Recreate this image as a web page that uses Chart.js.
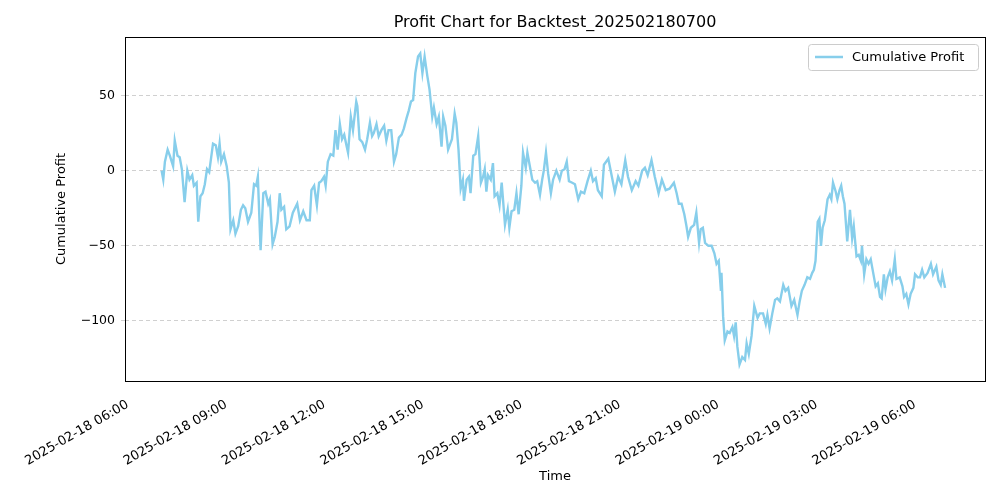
<!DOCTYPE html>
<html>
<head>
<meta charset="utf-8">
<script src="https://cdn.jsdelivr.net/npm/chart.js@4.4.1/dist/chart.umd.min.js"></script>
<style>
  html, body { margin: 0; padding: 0; background: #fff; }
  #wrap { width: 1000px; height: 500px; }
</style>
</head>
<body>
<div id="wrap"><canvas id="profitChart" width="1000" height="500"></canvas></div>
<script>
// minutes since 2025-02-18 06:00
const minutes = [62,65,68,73,77,83,86,91,95,99,104,109,113,118,121,126,129,133,137,141,145,149,156,161,165,168,171,176,181,185,188,193,197,202,207,211,215,220,226,231,235,238,243,248,252,257,260,265,269,274,278,281,286,290,296,302,310,315,321,327,333,336,341,346,350,354,359,362,366,371,376,380,384,388,392,396,400,403,408,412,418,
  420,424,429,434,438,443,447,450,455,459,464,469,473,477,482,487,491,496,501,505,510,514,518,522,526,531,535,539,543,548,552,557,560,565,569,574,577,581,586,590,593,598,601,605,609,613,615,620,624,627,632,636,641,646,650,653,656,659,664,668,671,676,680,684,690,695,698,702,707,711,715,720,723,728,731,735,740,745,749,754,758,761,765,769,774,778,
  784,790,794,799,803,807,813,818,824,829,835,841,847,851,856,860,867,871,879,885,891,897,903,910,915,922,929,934,941,946,951,958,964,971,977,984,991,999,1004,1008,1013,1018,1022,1025,1030,1036,1040,1045,1048,1052,1056,1062,1068,1073,1077,1081,1085,1086,1089,1092,1097,1101,1106,1109,1112,1115,1119,1124,1129,1132,1136,1141,1146,
  1152,1156,1162,1167,1170,1174,1179,1184,1188,1193,1199,1203,1208,1214,1219,1225,1229,1233,1238,1243,1248,1252,1255,1258,1262,1265,1268,1271,1275,1280,1284,1287,1290,1295,1298,1302,1305,1308,1311,1316,1321,1325,1328,1333,1337,1341,1343,1347,1351,1355,1359,1363,1368,1372,1376,1379,1383,1386,1390,1394,1398,1403,1406,1412,1417,1420,1424,1428,1432,1437,1440,1445,1449,1453,1457,1463,1469,1473,1479,1483,1487,1490,1495];
const profit = [0,-6,6,14,10,3,20,10,9,1,-21,0,-6,-3,-10,-8,-34,-17,-15,-9,1,-1,18,17,9,18,6,11,3,-8,-39,-33,-42,-37,-26,-23,-25,-34,-28,-9,-10,-4,-53,-15,-14,-22,-19,-49,-44,-34,-15,-26,-24,-39,-37,-28,-22,-33,-27,-33,-33,-13,-10,-23,-8,-7,-4,-10,6,11,10,27,14,31,21,24,17,12,36,27,46,
  43,21,19,14,21,32,23,25,31,23,27,30,20,27,27,6,11,22,24,28,35,40,46,47,65,76,78,65,76,63,54,36,42,31,36,16,36,30,14,18,21,38,32,14,-12,-6,-20,-6,-4,-15,10,11,23,-8,-4,1,-14,-3,-6,5,-17,-15,-23,-8,-36,-26,-38,-27,-26,-15,-29,-10,12,2,12,4,-6,-8,-7,-16,-6,0,12,-2,-15,-6,
  0,-6,0,1,6,-7,-8,-9,-19,-14,-15,-7,0,-7,-5,-13,-17,4,8,-3,-14,-4,-9,7,-4,-13,-7,-10,0,2,-3,7,-4,-15,-6,-13,-12,-8,-15,-22,-22,-29,-37,-44,-38,-36,-28,-48,-39,-38,-48,-50,-50,-55,-62,-60,-80,-68,-97,-113,-107,-108,-104,-110,-101,-117,-129,-124,-126,-115,-122,-110,-90,
  -98,-95,-95,-102,-96,-105,-95,-86,-85,-87,-76,-80,-78,-90,-86,-96,-87,-80,-76,-71,-72,-68,-66,-60,-34,-32,-50,-38,-33,-19,-16,-19,-8,-14,-19,-13,-10,-17,-22,-47,-26,-45,-37,-57,-56,-60,-50,-69,-59,-62,-59,-67,-77,-75,-84,-85,-69,-79,-71,-67,-73,-59,-72,-71,-77,-84,-82,-89,-82,-78,-69,-71,-71,-66,-71,-68,-62,-69,-64,-73,-76,-69,-78];
const xTicks = [0,180,360,540,720,900,1080,1260,1440];
const xTickLabels = ['2025-02-18 06:00','2025-02-18 09:00','2025-02-18 12:00','2025-02-18 15:00','2025-02-18 18:00','2025-02-18 21:00','2025-02-19 00:00','2025-02-19 03:00','2025-02-19 06:00'];
const yTicks = [-100,-50,0,50];

const FONT = 'DejaVu Sans';
const LINE_COLOR = '#87ceeb';

// frame, title, axis titles and legend drawn matplotlib-style
const decor = {
    id: 'decor',
    afterDraw(chart) {
        const { ctx, chartArea: a } = chart;
        ctx.save();
        ctx.strokeStyle = '#000';
        ctx.lineWidth = 1;
        ctx.strokeRect(a.left + 0.5, a.top + 0.5, a.right - a.left, a.bottom - a.top);

        ctx.fillStyle = '#000';
        ctx.textAlign = 'center';
        ctx.textBaseline = 'middle';
        ctx.font = '16px ' + FONT;
        ctx.fillText('Profit Chart for Backtest_202502180700', (a.left + a.right) / 2, 23);
        ctx.font = '13px ' + FONT;
        ctx.fillText('Time', (a.left + a.right) / 2, 477);
        ctx.translate(62, (a.top + a.bottom) / 2);
        ctx.rotate(-Math.PI / 2);
        ctx.fillText('Cumulative Profit', 0, 0);
        ctx.restore();

        // legend box
        ctx.save();
        const bx = 808, by = 44, bw = 170, bh = 26;
        ctx.fillStyle = 'rgba(255,255,255,0.8)';
        ctx.strokeStyle = '#ccc';
        ctx.lineWidth = 1;
        ctx.beginPath();
        ctx.roundRect(bx + 0.5, by + 0.5, bw, bh, 3);
        ctx.fill();
        ctx.stroke();
        ctx.strokeStyle = LINE_COLOR;
        ctx.lineWidth = 2.5;
        ctx.beginPath();
        ctx.moveTo(815, by + 13);
        ctx.lineTo(843, by + 13);
        ctx.stroke();
        ctx.fillStyle = '#000';
        ctx.font = '13px ' + FONT;
        ctx.textBaseline = 'middle';
        ctx.fillText('Cumulative Profit', 852, by + 13.5);
        ctx.restore();
    }
};

new Chart(document.getElementById('profitChart').getContext('2d'), {
    type: 'line',
    data: {
        datasets: [{
            label: 'Cumulative Profit',
            data: minutes.map((m, i) => ({ x: m, y: profit[i] })),
            borderColor: LINE_COLOR,
            borderWidth: 2.4,
            pointRadius: 0,
            tension: 0,
            fill: false
        }]
    },
    options: {
        responsive: false,
        animation: false,
        layout: { padding: { top: 37, right: 15, bottom: 0, left: 0 } },
        plugins: { legend: { display: false }, title: { display: false }, tooltip: { enabled: false } },
        scales: {
            x: {
                type: 'linear',
                min: -5,
                max: 1568,
                afterBuildTicks: s => { s.ticks = xTicks.map(v => ({ value: v })); },
                afterFit: s => { s.height = 119; },
                grid: { display: false, drawTicks: true, tickLength: 4 },
                border: { display: false },
                ticks: {
                    color: '#000',
                    font: { family: FONT, size: 13 },
                    padding: 12,
                    maxRotation: 30,
                    minRotation: 30,
                    autoSkip: false,
                    callback: (v) => xTickLabels[xTicks.indexOf(v)] || ''
                }
            },
            y: {
                min: -140,
                max: 89,
                afterBuildTicks: s => { s.ticks = yTicks.map(v => ({ value: v })); },
                afterFit: s => { s.width = 125; },
                grid: { color: '#d0d0d0', borderDash: [4, 3], tickLength: 4 },
                border: { display: false, dash: [4, 3] },
                ticks: {
                    color: '#000',
                    font: { family: FONT, size: 12.5 },
                    padding: 6,
                    callback: v => (v < 0 ? '\u2212' + Math.abs(v) : v)
                }
            }
        }
    },
    plugins: [decor]
});
</script>
</body>
</html>
